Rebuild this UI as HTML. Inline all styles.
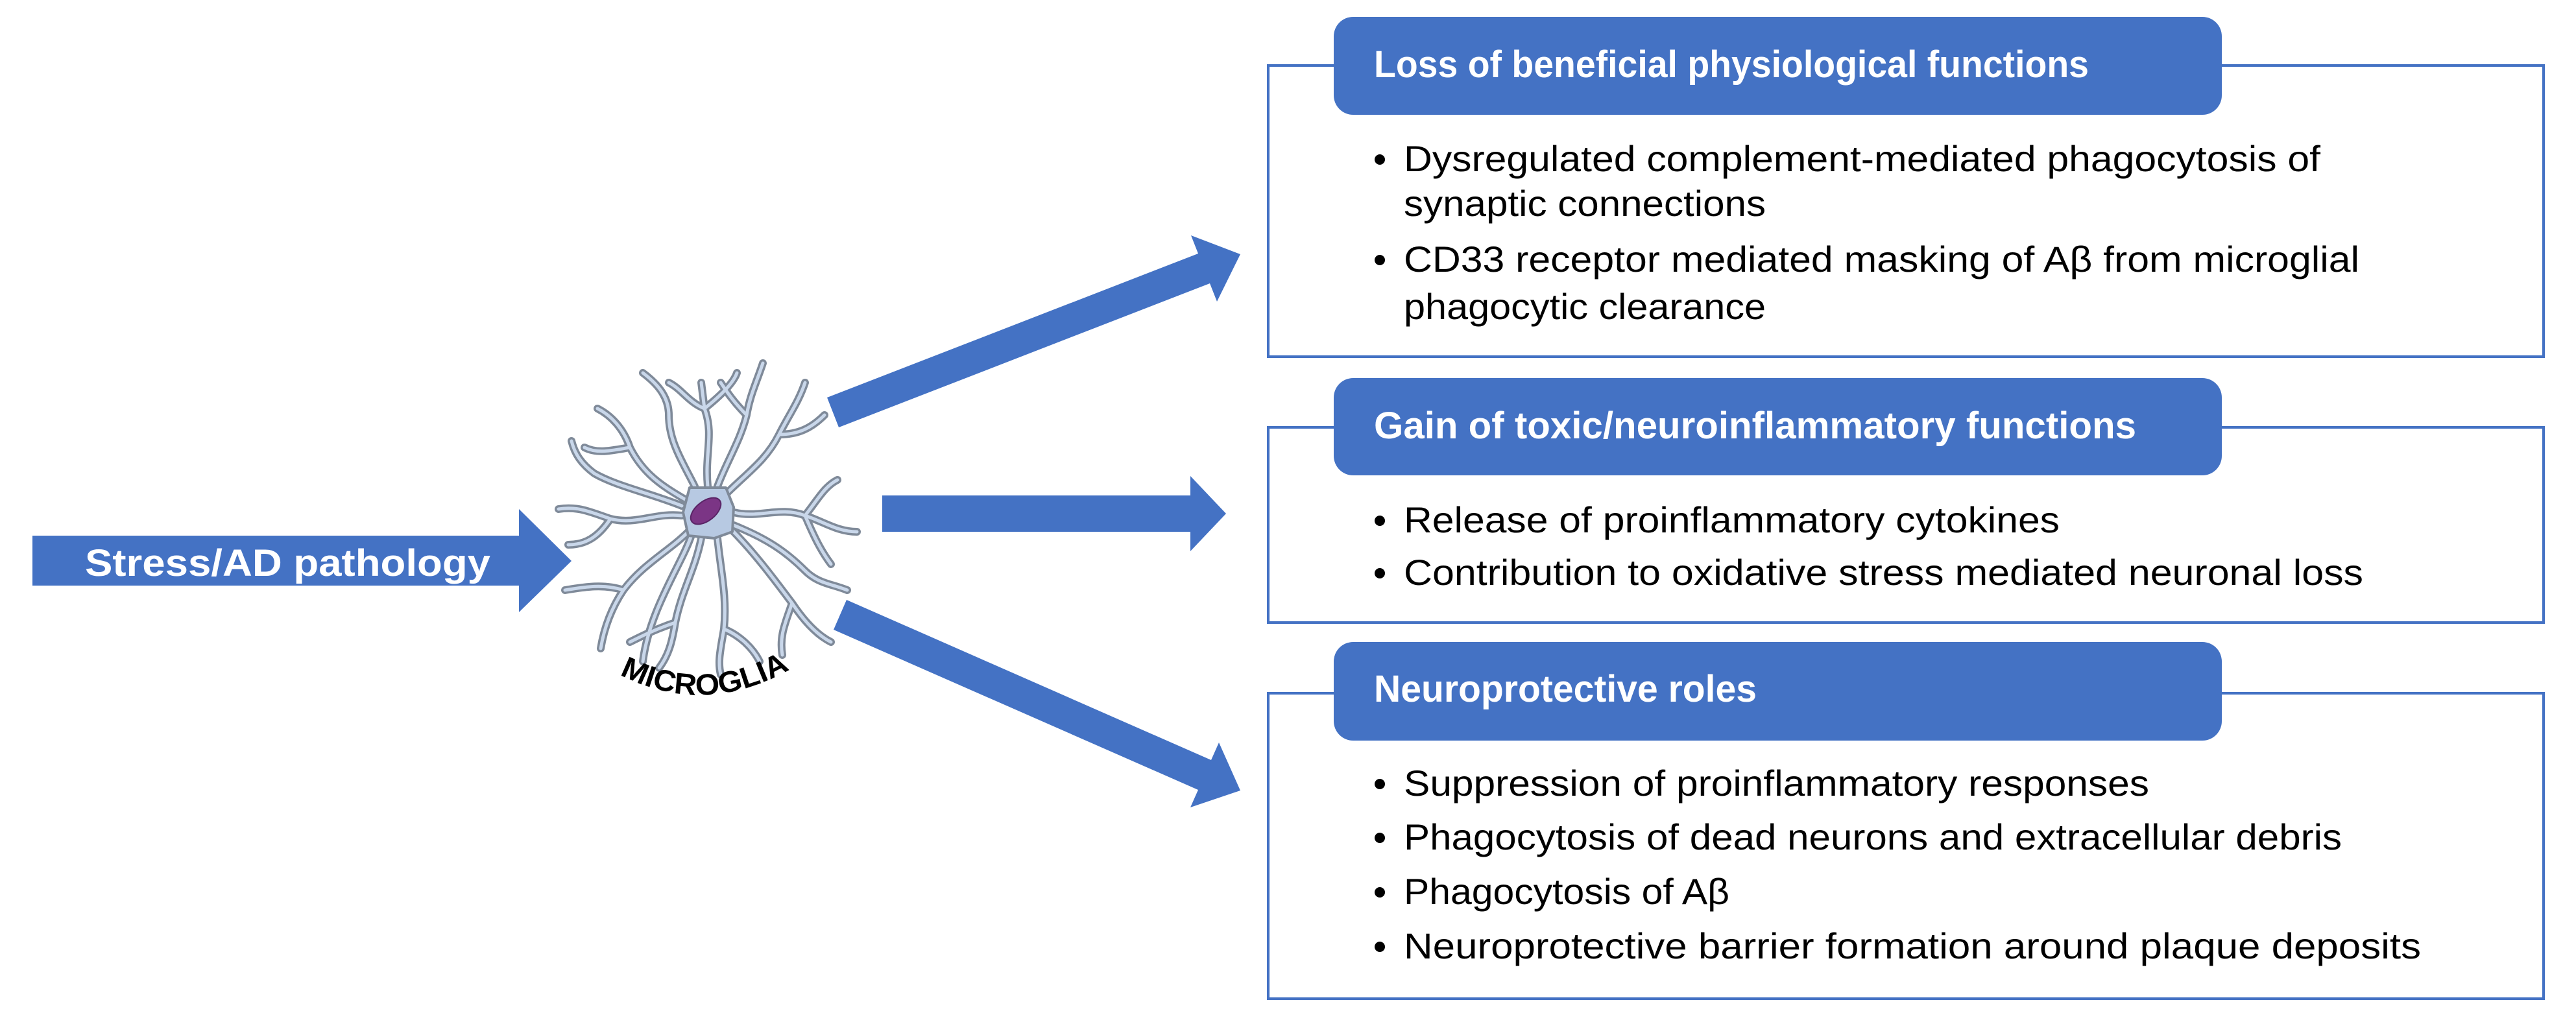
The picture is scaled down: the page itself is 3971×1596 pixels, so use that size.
<!DOCTYPE html>
<html><head><meta charset="utf-8"><style>
html,body{margin:0;padding:0;background:#fff;}
svg{display:block;}
</style></head><body>
<svg width="3971" height="1596" viewBox="0 0 3971 1596" xmlns="http://www.w3.org/2000/svg" font-family="'Liberation Sans', sans-serif">
<rect width="3971" height="1596" fill="#fff"/>
<polygon points="50,826 800,826 800,785 881,865 800,944 800,903 50,903" fill="#4472C4"/>
<text x="131" y="888" font-size="58" font-weight="bold" fill="#fff" textLength="625" lengthAdjust="spacingAndGlyphs">Stress/AD pathology</text>
<polygon points="1275,613 1847,391 1836,363 1912,392 1876,465 1865,437 1293,659" fill="#4472C4"/>
<polygon points="1360,764 1835,764 1835,734 1890,792 1835,850 1835,820 1360,820" fill="#4472C4"/>
<polygon points="1305,925 1867,1172 1879,1145 1912,1219 1835,1245 1847,1218 1285,971" fill="#4472C4"/>
<g transform="translate(1091,790)" fill="none" stroke-linecap="round" stroke-linejoin="round">
<g stroke="#7f8a99" stroke-width="12">
<path d="M0,-40 C-5,-90 10,-120 -5,-160 L-10,-200 M-5,-160 C-30,-170 -40,-190 -60,-200 M-5,-160 C20,-180 40,-200 45,-215"/>
<path d="M-35,-20 C-70,-40 -100,-60 -120,-100 C-130,-130 -150,-150 -170,-160 M-120,-100 C-150,-95 -170,-90 -190,-100"/>
<path d="M-40,5 C-80,0 -110,20 -150,10 C-180,0 -200,-10 -230,-5 M-150,10 C-170,40 -190,50 -215,50"/>
<path d="M-30,30 C-60,60 -100,80 -130,120 C-150,150 -160,180 -165,210 M-130,120 C-160,110 -190,115 -220,120"/>
<path d="M-10,40 C-20,90 -40,120 -50,170 C-55,200 -60,220 -75,240 M-50,170 C-80,180 -100,190 -120,200"/>
<path d="M15,40 C20,90 30,130 25,180 C20,210 15,230 20,250 M25,180 C50,190 70,210 80,230"/>
<path d="M35,25 C70,60 100,100 130,140 C150,170 170,190 190,200 M130,140 C120,170 110,190 115,220"/>
<path d="M40,0 C80,10 110,-10 150,5 C180,15 200,30 230,30 M150,5 C170,-20 180,-40 200,-50 M150,5 C165,40 175,60 190,80"/>
<path d="M30,-30 C60,-60 90,-80 110,-120 C125,-150 140,-170 150,-200 M110,-120 C140,-120 160,-130 180,-150"/>
<path d="M15,-40 C30,-80 50,-110 60,-150 C65,-180 75,-200 85,-230 M60,-150 C40,-170 30,-185 20,-200"/>
<path d="M-20,-40 C-40,-80 -60,-110 -60,-150 C-60,-180 -80,-200 -100,-215"/>
<path d="M40,20 C90,40 120,60 150,90 C170,110 190,110 215,120"/>
<path d="M-40,-10 C-90,-30 -140,-40 -175,-60 C-195,-75 -205,-90 -210,-110"/>
<path d="M-25,35 C-40,80 -90,150 -100,230"/>
</g>
<g stroke="#c9d7ea" stroke-width="5">
<path d="M0,-40 C-5,-90 10,-120 -5,-160 L-10,-200 M-5,-160 C-30,-170 -40,-190 -60,-200 M-5,-160 C20,-180 40,-200 45,-215"/>
<path d="M-35,-20 C-70,-40 -100,-60 -120,-100 C-130,-130 -150,-150 -170,-160 M-120,-100 C-150,-95 -170,-90 -190,-100"/>
<path d="M-40,5 C-80,0 -110,20 -150,10 C-180,0 -200,-10 -230,-5 M-150,10 C-170,40 -190,50 -215,50"/>
<path d="M-30,30 C-60,60 -100,80 -130,120 C-150,150 -160,180 -165,210 M-130,120 C-160,110 -190,115 -220,120"/>
<path d="M-10,40 C-20,90 -40,120 -50,170 C-55,200 -60,220 -75,240 M-50,170 C-80,180 -100,190 -120,200"/>
<path d="M15,40 C20,90 30,130 25,180 C20,210 15,230 20,250 M25,180 C50,190 70,210 80,230"/>
<path d="M35,25 C70,60 100,100 130,140 C150,170 170,190 190,200 M130,140 C120,170 110,190 115,220"/>
<path d="M40,0 C80,10 110,-10 150,5 C180,15 200,30 230,30 M150,5 C170,-20 180,-40 200,-50 M150,5 C165,40 175,60 190,80"/>
<path d="M30,-30 C60,-60 90,-80 110,-120 C125,-150 140,-170 150,-200 M110,-120 C140,-120 160,-130 180,-150"/>
<path d="M15,-40 C30,-80 50,-110 60,-150 C65,-180 75,-200 85,-230 M60,-150 C40,-170 30,-185 20,-200"/>
<path d="M-20,-40 C-40,-80 -60,-110 -60,-150 C-60,-180 -80,-200 -100,-215"/>
<path d="M40,20 C90,40 120,60 150,90 C170,110 190,110 215,120"/>
<path d="M-40,-10 C-90,-30 -140,-40 -175,-60 C-195,-75 -205,-90 -210,-110"/>
<path d="M-25,35 C-40,80 -90,150 -100,230"/>
</g>
<polygon points="-28,-38 28,-38 40,-8 38,30 10,40 -30,36 -38,0" fill="#b7c9e2" stroke="#7f8a99" stroke-width="4"/>
<ellipse cx="-3" cy="-2" rx="27" ry="15" transform="rotate(-38 -3 -2)" fill="#7b3585" stroke="#5a2466" stroke-width="2"/>
</g>
<path id="arc" d="M955,1040 Q1091,1110 1230,1025" fill="none"/>
<text font-size="46" fill="#000" font-weight="bold"><textPath href="#arc" textLength="275" lengthAdjust="spacingAndGlyphs">MICROGLIA</textPath></text>
<g fill="none" stroke="#4472C4" stroke-width="4">
<rect x="1955" y="101" width="1966" height="449"/>
<rect x="1955" y="659" width="1966" height="301"/>
<rect x="1955" y="1069" width="1966" height="471"/>
</g>
<g fill="#4472C4">
<rect x="2056" y="26" width="1369" height="151" rx="30"/>
<rect x="2056" y="583" width="1369" height="150" rx="30"/>
<rect x="2056" y="990" width="1369" height="152" rx="30"/>
</g>
<g fill="#fff" font-size="58" font-weight="bold">
<text x="2118" y="119" textLength="1102" lengthAdjust="spacingAndGlyphs">Loss of beneficial physiological functions</text>
<text x="2118" y="676" textLength="1175" lengthAdjust="spacingAndGlyphs">Gain of toxic/neuroinflammatory functions</text>
<text x="2118" y="1082" textLength="590" lengthAdjust="spacingAndGlyphs">Neuroprotective roles</text>
</g>
<g fill="#000" font-size="56">
<g>
<circle cx="2127" cy="246" r="8"/><circle cx="2127" cy="401" r="8"/>
<circle cx="2127" cy="803" r="8"/><circle cx="2127" cy="884" r="8"/>
<circle cx="2127" cy="1209" r="8"/><circle cx="2127" cy="1292" r="8"/>
<circle cx="2127" cy="1376" r="8"/><circle cx="2127" cy="1460" r="8"/>
</g>
<text x="2164" y="264" textLength="1413" lengthAdjust="spacingAndGlyphs">Dysregulated complement-mediated phagocytosis of</text>
<text x="2164" y="333" textLength="558" lengthAdjust="spacingAndGlyphs">synaptic connections</text>
<text x="2164" y="419" textLength="1473" lengthAdjust="spacingAndGlyphs">CD33 receptor mediated masking of Aβ from microglial</text>
<text x="2164" y="492" textLength="558" lengthAdjust="spacingAndGlyphs">phagocytic clearance</text>
<text x="2164" y="821" textLength="1011" lengthAdjust="spacingAndGlyphs">Release of proinflammatory cytokines</text>
<text x="2164" y="902" textLength="1479" lengthAdjust="spacingAndGlyphs">Contribution to oxidative stress mediated neuronal loss</text>
<text x="2164" y="1227" textLength="1149" lengthAdjust="spacingAndGlyphs">Suppression of proinflammatory responses</text>
<text x="2164" y="1310" textLength="1446" lengthAdjust="spacingAndGlyphs">Phagocytosis of dead neurons and extracellular debris</text>
<text x="2164" y="1394" textLength="502" lengthAdjust="spacingAndGlyphs">Phagocytosis of Aβ</text>
<text x="2164" y="1478" textLength="1568" lengthAdjust="spacingAndGlyphs">Neuroprotective barrier formation around plaque deposits</text>
</g>
</svg>
</body></html>
